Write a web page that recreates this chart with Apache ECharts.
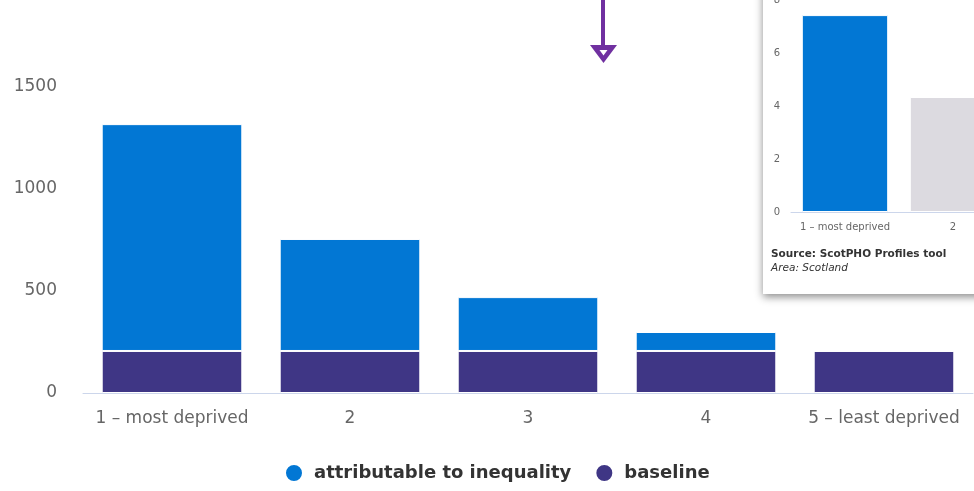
<!DOCTYPE html>
<html><head><meta charset="utf-8">
<script src="https://cdn.jsdelivr.net/npm/echarts@6/dist/echarts.min.js"></script>
<style>html,body{margin:0;padding:0;background:#fff}#c{width:974px;height:491px}</style>
</head><body><div id="c"></div>
<script>
const categories = ['1 – most deprived', '2', '3', '4', '5 – least deprived'];
const attributable = [1112, 549, 264, 93, 0];
const baseline = [206, 206, 206, 206, 206];
const yTicks = [0, 500, 1000, 1500];

const insetCategories = ['1 – most deprived', '2'];
const insetValues = [7.43, 4.34];
const insetTicks = [0, 2, 4, 6, 8];

const FONT = 'DejaVu Sans';
const BLUE = '#0277d4', PURPLE = '#3f3685', GREY = '#dcdae0', ARROW = '#7030a0';

const chart = echarts.init(document.getElementById('c'), null, {renderer: 'canvas'});
chart.setOption({
  animation: false,
  textStyle: {fontFamily: FONT},
  legend: {
    bottom: 3, left: 279, itemWidth: 18, itemHeight: 18, itemGap: 23,
    icon: 'circle',
    textStyle: {fontFamily: FONT, fontSize: 18, fontWeight: 'bold', color: '#333', padding: [0, 0, 0, 6]},
    data: ['attributable to inequality', 'baseline']
  },
  grid: [
    {left: 83, right: 1, top: 87, bottom: 98, outerBoundsMode: 'none', containLabel: false},
    {left: 791, width: 216, top: 0, height: 212, z: 20, outerBoundsMode: 'none', containLabel: false}
  ],
  xAxis: [
    {type: 'category', data: categories, gridIndex: 0,
     axisLine: {lineStyle: {color: '#ccd6eb'}}, axisTick: {show: false},
     axisLabel: {color: '#666', fontSize: 17, margin: 17, interval: 0, fontFamily: FONT}},
    {type: 'category', data: insetCategories, gridIndex: 1, z: 20,
     axisLine: {lineStyle: {color: '#ccd6eb'}}, axisTick: {show: false},
     axisLabel: {color: '#666', fontSize: 10, margin: 10, interval: 0, fontFamily: FONT}}
  ],
  yAxis: [
    {type: 'value', gridIndex: 0, min: yTicks[0], max: yTicks[yTicks.length-1], interval: 500,
     splitLine: {show: false}, axisLine: {show: false}, axisTick: {show: false},
     axisLabel: {color: '#666', fontSize: 17, margin: 26, fontFamily: FONT, formatter: v => String(v)}},
    {type: 'value', gridIndex: 1, min: insetTicks[0], max: insetTicks[insetTicks.length-1], interval: 2, z: 20,
     splitLine: {show: false}, axisLine: {show: false}, axisTick: {show: false},
     axisLabel: {color: '#666', fontSize: 10, margin: 11, fontFamily: FONT}}
  ],
  series: [
    {name: 'baseline', type: 'bar', stack: 'a', data: baseline, barCategoryGap: '21%',
     itemStyle: {color: PURPLE, borderColor: '#fff', borderWidth: 1}},
    {name: 'attributable to inequality', type: 'bar', stack: 'a', data: attributable, barCategoryGap: '21%',
     itemStyle: {color: BLUE, borderColor: '#fff', borderWidth: 1}},
    {name: 'inset', type: 'bar', xAxisIndex: 1, yAxisIndex: 1, z: 20, barCategoryGap: '20%',
     data: insetValues.map((v, i) => ({value: v, itemStyle: {color: i === 0 ? BLUE : GREY}})),
     itemStyle: {borderColor: '#fff', borderWidth: 1}}
  ],
  graphic: [
    {type: 'rect', shape: {x: 763, y: -20, width: 230, height: 314}, z: 5,
     style: {fill: '#fff', shadowBlur: 8, shadowColor: 'rgba(0,0,0,0.45)', shadowOffsetY: 3, shadowOffsetX: 0}},
    {type: 'text', x: 771, y: 249, z: 30,
     style: {text: 'Source: ScotPHO Profiles tool', fontFamily: FONT, fontSize: 10.5, fontWeight: 'bold', fill: '#333'}},
    {type: 'text', x: 771, y: 263, z: 30,
     style: {text: 'Area: Scotland', fontFamily: FONT, fontSize: 10.5, fontStyle: 'italic', fill: '#333'}},
    {type: 'rect', shape: {x: 601, y: 0, width: 4, height: 47}, z: 30, style: {fill: ARROW}},
    {type: 'polygon', shape: {points: [[590, 45], [617, 45], [603.5, 63]]}, z: 30, style: {fill: ARROW}},
    {type: 'polygon', shape: {points: [[599.5, 50], [607.5, 50], [603.5, 55.5]]}, z: 31, style: {fill: '#fff'}}
  ]
});
</script></body></html>
